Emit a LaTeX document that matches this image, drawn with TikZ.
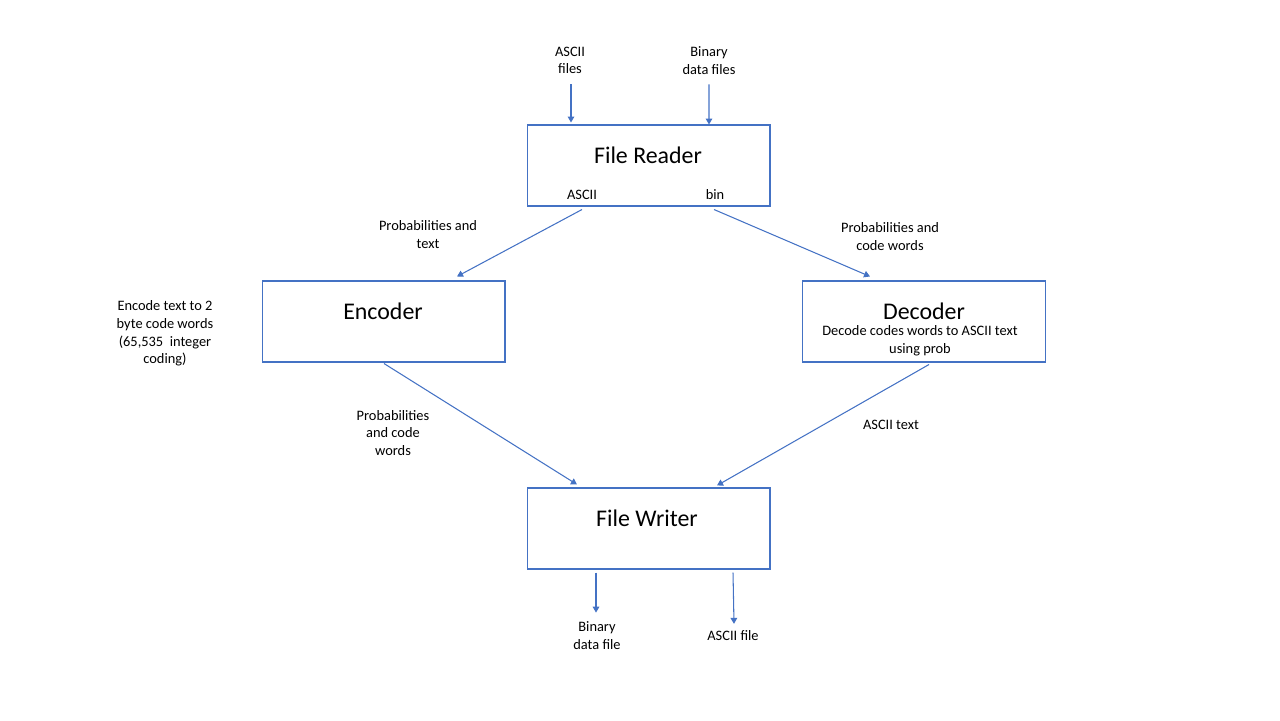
\documentclass[tikz,border=0pt]{standalone}
\usepackage{fontspec}
\setmainfont{Carlito}
\usetikzlibrary{arrows.meta,calc}
\definecolor{flowblue}{HTML}{4472C4}

\begin{document}
\begin{tikzpicture}[x=0.02cm,y=-0.02cm,
  box/.style={draw=flowblue,line width=0.6pt,minimum width=4.86cm,
    minimum height=1.62cm,inner sep=0pt},
  title/.style={font=\fontsize{13.6}{16}\selectfont},
  note/.style={font=\fontsize{8.2}{10}\selectfont,align=center,inner sep=1pt},
  flow/.style={draw=flowblue,line width=0.6pt,
    -{Triangle[length=3.4pt,width=3.8pt]}}]
  \useasboundingbox (0,0) rectangle (1280,720);
  % boxes
  \node[box] (reader) at (648.5,165.5) {};
  \node[box] (encoder) at (383.5,321.5) {};
  \node[box] (decoder) at (924,321.5) {};
  \node[box] (writer) at (648.5,528.5) {};
  \node[title] (readertitle) at (648,155) {File Reader};
  \node[title] (encodertitle) at (383,311) {Encoder};
  \node[title] (decodertitle) at (924,311) {Decoder};
  \node[title] (writertitle) at (647,518) {File Writer};
  \node[note] (readerascii) at (582,195) {ASCII};
  \node[note] (readerbin) at (715,195) {bin};
  \node[note] (decodernote) at (920,341)
    {Decode codes words to ASCII text\\using prob};
  \node[note] (encodernote) at (165,333.5)
    {Encode text to 2\\byte code words\\(65,535~ integer\\coding)};
  % inputs
  \node[note] (asciiin) at (570,60.5) {ASCII\\files};
  \node[note] (binin) at (709,60.5) {Binary\\data files};
  \draw[flow] ($(asciiin.south)+(1,8)$) -- ($(reader.north)+(-77.5,-2)$);
  \draw[flow] ($(binin.south)+(0,8)$) -- ($(reader.north)+(60.5,0)$);
  % reader to coders
  \draw[flow] ($(reader.south)+(-66.5,3)$) -- ($(encoder.north)+(73.5,-4)$);
  \draw[flow] ($(reader.south)+(65.5,3)$) -- ($(decoder.north)+(-54,-4)$);
  \node[note] (enclabel) at (428,234.5) {Probabilities and\\text};
  \node[note] (declabel) at (890,236.5) {Probabilities and\\code words};
  % coders to writer
  \draw[flow] ($(encoder.south)+(0.5,1)$) -- ($(writer.north)+(-71.5,-3)$);
  \draw[flow] ($(decoder.south)+(5,2)$) -- ($(writer.north)+(68.5,-2)$);
  \node[note] (codelabel) at (393,433) {Probabilities\\and code\\words};
  \node[note] (textlabel) at (891,425) {ASCII text};
  % outputs
  \node[note] (binout) at (597,635.5) {Binary\\data file};
  \node[note] (asciiout) at (733,636) {ASCII file};
  \draw[flow] ($(writer.south)+(-52.5,3)$) -- ($(binout.north)+(-1,-7)$);
  \draw[flow] ($(writer.south)+(84.5,3)$) -- ($(asciiout.north)+(1,-5)$);
\end{tikzpicture}
\end{document}
